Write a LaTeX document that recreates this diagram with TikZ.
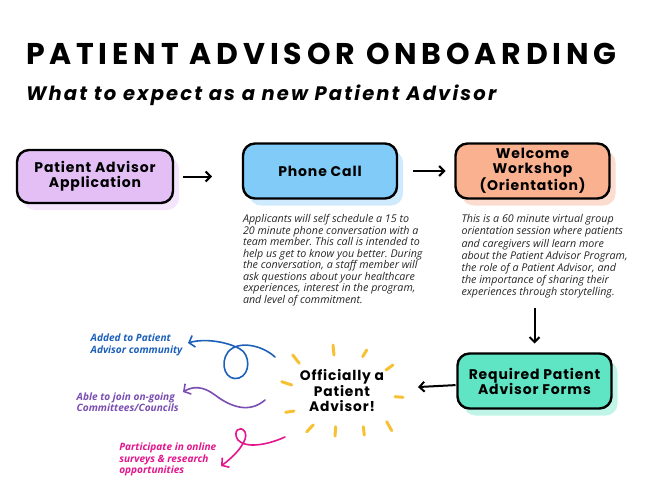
\documentclass[tikz,border=0pt]{standalone}
\usepackage{fontspec}
\setmainfont{Open Sans}
\newfontfamily\boxfont[LetterSpace=6]{Poppins}
\newfontfamily\subfont[LetterSpace=11]{Poppins}
\newfontfamily\titlefont[LetterSpace=16]{Poppins}
\usetikzlibrary{arrows.meta, positioning, calc, shadows}
\definecolor{applyfill}{HTML}{E3BFF6}
\definecolor{applyshade}{HTML}{F4E4FC}
\definecolor{phonefill}{HTML}{80CBF8}
\definecolor{phoneshade}{HTML}{CFEAFC}
\definecolor{welcomefill}{HTML}{F9B18F}
\definecolor{welcomeshade}{HTML}{FCDCCE}
\definecolor{formsfill}{HTML}{5FE5C4}
\definecolor{formsshade}{HTML}{BFF4E6}
\definecolor{raygold}{HTML}{F6C132}
\definecolor{perkblue}{HTML}{1D60BA}
\definecolor{perkpurple}{HTML}{7A4DB2}
\definecolor{perkpink}{HTML}{E2168D}
\definecolor{bodygray}{HTML}{262626}
\frenchspacing

\begin{document}
\begin{tikzpicture}[
    x=1pt, y=1pt,
    every node/.style={inner sep=0pt, outer sep=0pt},
    stage/.style={draw=black, line width=2.4pt, rounded corners=12pt, minimum width=154pt, minimum height=55pt, align=center, font=\boxfont\bfseries\fontsize{14}{15}\selectfont, general shadow={fill=#1, shadow xshift=6pt, shadow yshift=-7pt}},
    blurb/.style={align=left, text=bodygray, font=\itshape\fontsize{10.7}{11.5}\selectfont},
    perk/.style={anchor=north west, align=left, font=\bfseries\itshape\fontsize{10.1}{11.6}\selectfont},
    flow/.style={-{Straight Barb[length=5pt, width=10pt]}, line width=2pt},
    squiggle/.style={-{Straight Barb[length=5pt, width=12pt]}, line width=1.6pt, line cap=round},
    ray/.style={draw=raygold, line width=3pt, line cap=round}
]
\useasboundingbox (0,0) rectangle (647,-500);

% heading
\node[anchor=base west, font=\titlefont\bfseries\fontsize{30}{30}\selectfont] (title) at (26,-65) {PATIENT ADVISOR ONBOARDING};
\node[anchor=base west, font=\subfont\bfseries\itshape\fontsize{19.5}{19.5}\selectfont] (subtitle) at (26,-100) {What to expect as a new Patient Advisor};

% stages
\node[stage=applyshade, fill=applyfill, minimum width=156pt, minimum height=53pt] (apply) at (95,-176.5) {Patient Advisor\\Application};
\node[stage=phoneshade, fill=phonefill] (phone) at (320,-171) {Phone Call};
\node[stage=welcomeshade, fill=welcomefill] (welcome) at (532.5,-171) {Welcome\\Workshop\\(Orientation)};
\node[stage=formsshade, fill=formsfill] (forms) at (534.5,-381) {Required Patient\\Advisor Forms};

% descriptions
\node[blurb, below right=16pt and 0pt of phone.south west] (phonetext) {Applicants will self schedule a 15 to\\20 minute phone conversation with a\\team member. This call is intended to\\help us get to know you better. During\\the conversation, a staff member will\\ask questions about your healthcare\\experiences, interest in the program,\\and level of commitment.};
\node[blurb, font=\itshape\fontsize{10.7}{12.2}\selectfont, below right=16pt and 6pt of welcome.south west] (welcometext) {This is a 60 minute virtual group\\orientation session where patients\\and caregivers will learn more\\about the Patient Advisor Program,\\the role of a Patient Advisor, and\\the importance of sharing their\\experiences through storytelling.};

% result
\node[align=center, font=\boxfont\bfseries\fontsize{13.8}{15.5}\selectfont] (official) at (342,-391) {Officially a\\Patient\\Advisor!};
\foreach \xa/\ya/\xb/\yb in {333/-345/334/-355, 366.7/-350/362.7/-356.7, 393/-365/386/-370,
    395/-396.7/403/-397.3, 386.7/-421.7/391.7/-430.7, 363.3/-426.7/364.3/-435,
    335.7/-426.7/335/-436, 313.3/-425/306.7/-431.7, 294/-411/285.7/-412.3,
    281.7/-381.7/291.7/-385, 292.7/-355/299.3/-363.3}
    \draw[ray] (\xa,\ya) -- (\xb,\yb);

% flow arrows
\draw[flow, shorten <=10pt, shorten >=31pt] (apply.east) -- (apply.east -| phone.west);
\draw[flow, shorten <=16pt, shorten >=10pt] (phone) -- (welcome);
\draw[flow, shorten <=10pt, shorten >=10pt] (welcometext.south -| forms.north) -- (forms.north);
\draw[flow, shorten <=2pt, shorten >=34pt] (forms) -- (official);

% perks
\node[perk, text=perkblue] (community) at (90.7,-334) {Added to Patient\\Advisor community};
\node[perk, text=perkpurple] (committees) at (76.7,-392.5) {Able to join on-going\\Committees/Councils};
\node[perk, text=perkpink] (surveys) at (119.3,-443) {Participate in online\\surveys \& research\\opportunities};

\coordinate (blueend) at (275,-357);
\coordinate (purpleend) at (265,-400);
\coordinate (pinkend) at (285,-437);
\draw[squiggle, perkblue] (blueend) .. controls (262,-345) and (238,-340) .. (228,-352)
    .. controls (219,-364) and (226,-382) .. (239,-378)
    .. controls (251,-374) and (250,-354) .. (240,-349)
    .. controls (228,-342) and (205,-338) .. (188,-343);
\draw[squiggle, perkpurple] (purpleend) .. controls (250,-413) and (232,-408) .. (215,-395)
    .. controls (203,-386) and (193,-386) .. (183,-392);
\draw[squiggle, perkpink] (pinkend) .. controls (265,-446) and (245,-448) .. (238,-440)
    .. controls (232,-432) and (240,-424) .. (245,-432)
    .. controls (249,-440) and (236,-455) .. (221,-466);
\end{tikzpicture}
\end{document}
